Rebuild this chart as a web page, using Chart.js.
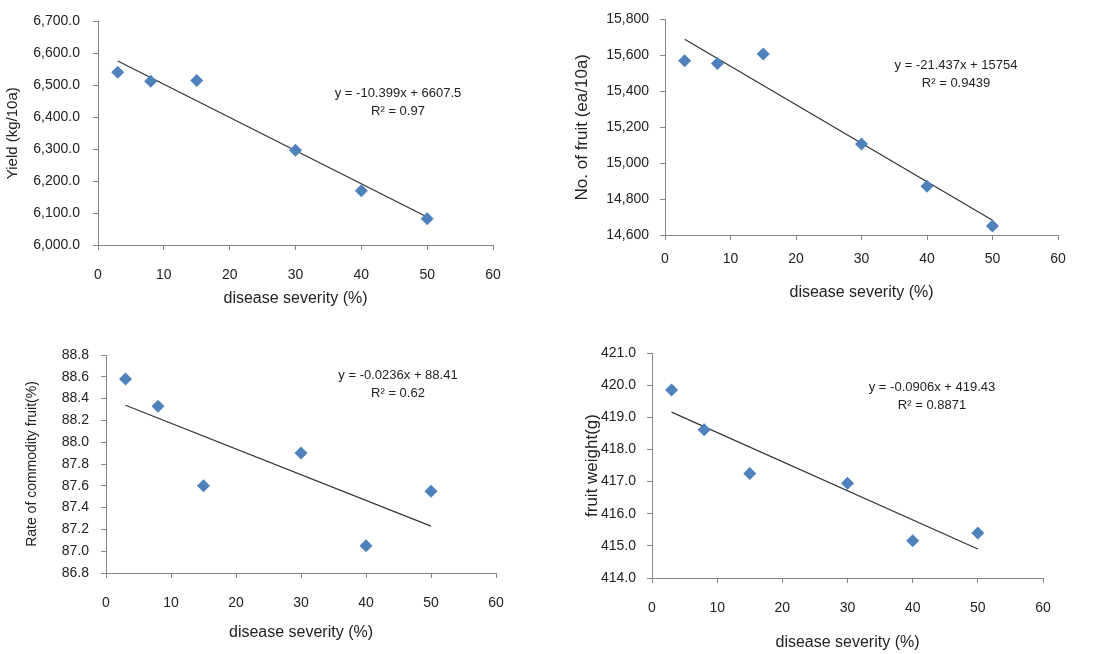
<!DOCTYPE html>
<html>
<head>
<meta charset="utf-8">
<script src="https://cdn.jsdelivr.net/npm/chart.js@4"></script>
<style>
  body { margin: 0; background: #fff; }
  #wrap { position: relative; width: 1102px; height: 654px; }
  canvas { position: absolute; }
</style>
</head>
<body>
<div id="wrap">
  <canvas id="c1" width="551" height="327" style="left:0;top:0"></canvas>
  <canvas id="c2" width="551" height="327" style="left:551px;top:0"></canvas>
  <canvas id="c3" width="551" height="327" style="left:0;top:327px"></canvas>
  <canvas id="c4" width="551" height="327" style="left:551px;top:327px"></canvas>
</div>
<script>
// disease severity (%) - same for all four panels
const severity = [3, 8, 15, 30, 40, 50];
const xTicks = ['0', '10', '20', '30', '40', '50', '60'];

// panel values
const yieldVals = [6541, 6513, 6515, 6297, 6170, 6082];
const fruitCount = [15570, 15554, 15608, 15107, 14871, 14650];
const commodityRate = [88.58, 88.33, 87.60, 87.90, 87.05, 87.55];
const fruitWeight = [419.85, 418.61, 417.25, 416.95, 415.16, 415.40];

// trendline end points (x = 3 and x = 50)
const yieldTrend = [6576.3, 6087.5];
const fruitTrend = [15689.7, 14682.2];
const rateTrend = [88.339, 87.23];
const weightTrend = [419.16, 414.90];

// y tick labels
const yieldTicks = ['6,000.0', '6,100.0', '6,200.0', '6,300.0', '6,400.0', '6,500.0', '6,600.0', '6,700.0'];
const fruitTicks = ['14,600', '14,800', '15,000', '15,200', '15,400', '15,600', '15,800'];
const rateTicks = ['86.8', '87.0', '87.2', '87.4', '87.6', '87.8', '88.0', '88.2', '88.4', '88.6', '88.8'];
const weightTicks = ['414.0', '415.0', '416.0', '417.0', '418.0', '419.0', '420.0', '421.0'];

const FONT = 'Liberation Sans, Arial, sans-serif';
const AXIS = '#868686';

// draws the regression equation text
const eqPlugin = {
    id: 'eqText',
    afterDraw(chart, args, opts) {
        const ctx = chart.ctx;
        ctx.save();
        ctx.fillStyle = '#222';
        ctx.font = '13px ' + FONT;
        ctx.textAlign = 'center';
        ctx.textBaseline = 'middle';
        opts.lines.forEach((t, i) => ctx.fillText(t, opts.x, opts.y + i * 18));
        ctx.restore();
    }
};

function makeChart(id, cfg) {
    const W = 551, H = 327;
    const pts = severity.map((x, i) => ({ x: x, y: cfg.values[i] }));
    const trend = [{ x: severity[0], y: cfg.trend[0] }, { x: severity[severity.length - 1], y: cfg.trend[1] }];
    return new Chart(document.getElementById(id), {
        type: 'scatter',
        data: {
            datasets: [{
                data: pts,
                pointStyle: 'rectRot',
                pointRadius: 6.5,
                backgroundColor: '#4F81BD',
                borderColor: '#4F81BD',
                borderWidth: 0
            }, {
                type: 'line',
                data: trend,
                borderColor: '#333',
                borderWidth: 1.2,
                pointRadius: 0,
                fill: false
            }]
        },
        options: {
            responsive: false,
            animation: false,
            layout: { padding: { left: 0, top: cfg.area.t, right: W - cfg.area.r, bottom: 0 } },
            plugins: {
                legend: { display: false },
                tooltip: { enabled: false },
                eqText: { lines: cfg.eq, x: cfg.eqPos[0], y: cfg.eqPos[1] }
            },
            scales: {
                x: {
                    type: 'linear',
                    min: 0, max: 60,
                    afterBuildTicks: s => { s.ticks = xTicks.map(v => ({ value: +v })); },
                    afterFit: s => { s.height = H - cfg.area.b; },
                    grid: { drawOnChartArea: false, drawTicks: true, tickLength: 5, color: AXIS },
                    border: { color: AXIS },
                    ticks: {
                        color: '#222', font: { family: FONT, size: 14 }, padding: cfg.xPad,
                        callback: (v, i) => xTicks[i]
                    },
                    title: {
                        display: true, text: 'disease severity (%)', color: '#222',
                        font: { family: FONT, size: 16 }, padding: { top: 0, bottom: cfg.xTitlePad }
                    }
                },
                y: {
                    type: 'linear',
                    min: cfg.yMin, max: cfg.yMax,
                    afterBuildTicks: s => { s.ticks = cfg.yTicks.map(v => ({ value: parseFloat(v.replace(/,/g, '')) })); },
                    afterFit: s => { s.width = cfg.area.l; },
                    grid: { drawOnChartArea: false, drawTicks: true, tickLength: 5, color: AXIS },
                    border: { color: AXIS },
                    ticks: {
                        color: '#222', font: { family: FONT, size: 14 }, padding: cfg.yPad,
                        callback: (v, i) => cfg.yTicks[i]
                    },
                    title: {
                        display: true, text: cfg.yTitle, color: '#222',
                        font: { family: FONT, size: cfg.yTitleSize }, padding: { top: cfg.yTitlePad, bottom: 0 }
                    }
                }
            }
        },
        plugins: [eqPlugin]
    });
}

makeChart('c1', {
    values: yieldVals, trend: yieldTrend, yTicks: yieldTicks, yMin: 6000, yMax: 6700,
    area: { l: 98, r: 493, t: 16, b: 245 },
    xPad: 17, xTitlePad: 19, yPad: 13,
    yTitle: 'Yield (kg/10a)', yTitleSize: 15, yTitlePad: 4,
    eq: ['y = -10.399x + 6607.5', 'R² = 0.97'], eqPos: [398, 93]
});

makeChart('c2', {
    values: fruitCount, trend: fruitTrend, yTicks: fruitTicks, yMin: 14600, yMax: 15800,
    area: { l: 114, r: 507, t: 13, b: 235 },
    xPad: 11, xTitlePad: 25, yPad: 11,
    yTitle: 'No. of fruit (ea/10a)', yTitleSize: 17, yTitlePad: 21,
    eq: ['y = -21.437x + 15754', 'R² = 0.9439'], eqPos: [405, 65]
});

makeChart('c3', {
    values: commodityRate, trend: rateTrend, yTicks: rateTicks, yMin: 86.8, yMax: 88.8,
    area: { l: 106, r: 496, t: 28, b: 246 },
    xPad: 17, xTitlePad: 12, yPad: 12,
    yTitle: 'Rate of commodity fruit(%)', yTitleSize: 14, yTitlePad: 24,
    eq: ['y = -0.0236x + 88.41', 'R² = 0.62'], eqPos: [398, 48]
});

makeChart('c4', {
    values: fruitWeight, trend: weightTrend, yTicks: weightTicks, yMin: 414, yMax: 421,
    area: { l: 101, r: 492, t: 26, b: 251 },
    xPad: 17, xTitlePad: 2, yPad: 11,
    yTitle: 'fruit weight(g)', yTitleSize: 17, yTitlePad: 31,
    eq: ['y = -0.0906x + 419.43', 'R² = 0.8871'], eqPos: [381, 60]
});
</script>
</body>
</html>
